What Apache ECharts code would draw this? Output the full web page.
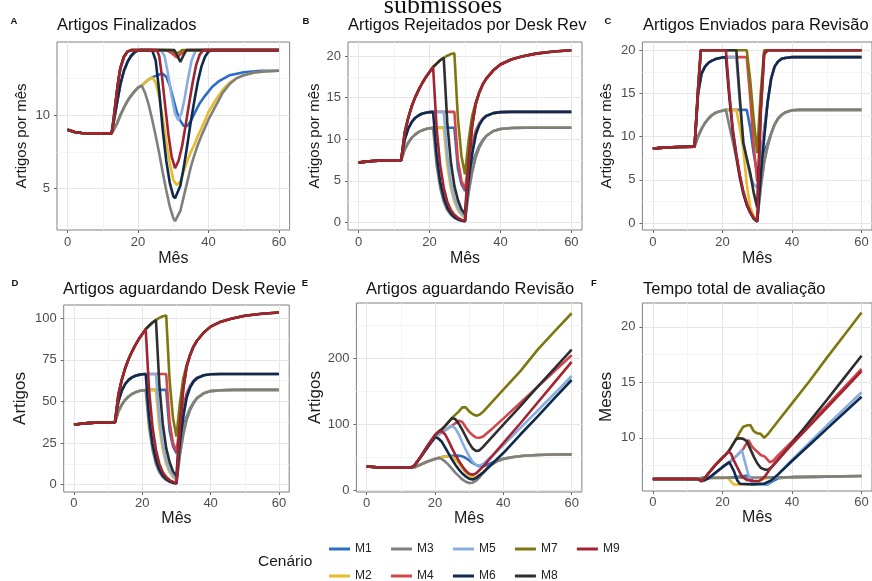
<!DOCTYPE html>
<html>
  <head>
    <meta charset="utf-8" />
    <title>Cenários de submissões</title>
    <script src="https://cdn.jsdelivr.net/npm/echarts@6/dist/echarts.min.js"></script>
    <style>
      html, body { margin: 0; padding: 0; background: #fff; }
      #main { width: 872px; height: 581px; }
    </style>
  </head>
  <body>
    <div id="main"></div>
    <script type="text/javascript">
      var cenarios = ['M1', 'M2', 'M3', 'M4', 'M5', 'M6', 'M7', 'M8', 'M9'];
      var cores = ['#2b6cc4', '#e9ba2c', '#7f7f7f', '#d4454b', '#88aee0', '#0e2a4d', '#80760f', '#2e2e2e', '#a3232f'];
      var ticksMes = [0, 20, 40, 60];

      // cada série = base + subida do grupo (M1-M3, M4-M6, M7-M9) + resto
      // A - artigos finalizados
      var baseA = [[0, 9.0], [2, 8.85], [4, 8.78], [7, 8.75], [12.5, 8.75]];
      var subidaA = [
        [[13, 8.85], [14, 9.4], [15, 10.0], [16, 10.5], [17, 10.95], [18, 11.3], [19, 11.6], [20, 11.85], [21, 12.0]],
        [[13, 9.4], [14, 10.8], [15, 12.1], [16, 13.0], [17, 13.6], [18, 14.0], [19, 14.25], [20, 14.38], [21, 14.4]],
        [[13, 9.6], [13.5, 10.6], [14, 11.6], [14.5, 12.5], [15, 13.2], [16, 13.95], [17, 14.3], [18, 14.4]]
      ];
      var restoA = [
        [[22, 12.2], [23, 12.4], [24, 12.55], [25, 12.65], [26, 12.75], [27, 12.8], [28, 12.6], [29, 12.0], [30, 11.1], [31, 10.2], [32, 9.6], [33, 9.25], [34, 9.25], [35, 9.6], [36, 10.1], [37.5, 10.8], [39, 11.3], [41, 11.9], [43, 12.3], [46, 12.7], [50, 12.9], [55, 13.0], [60, 13.0]],
        [[22, 12.2], [23, 12.4], [24, 12.55], [25, 12.2], [26, 11.2], [27, 9.8], [28, 8.2], [29, 6.7], [30, 5.6], [31, 5.25], [32, 5.5], [33, 6.2], [34, 6.9], [35, 7.5], [36, 8.0], [37, 8.6], [38, 9.1], [40, 10.2], [42, 11.0], [44, 11.7], [46, 12.2], [48, 12.5], [50, 12.7], [53, 12.88], [56, 12.95], [60, 13.0]],
        [[22, 11.5], [23, 10.7], [24, 9.7], [25, 8.6], [26, 7.4], [27, 6.1], [28, 4.9], [29, 3.8], [30, 3.0], [30.5, 2.8], [31, 2.9], [32, 3.5], [33, 4.5], [34, 5.5], [35, 6.5], [36, 7.3], [37, 8.0], [38, 8.6], [40, 9.7], [42, 10.6], [44, 11.5], [46, 12.1], [48, 12.5], [50, 12.7], [53, 12.88], [56, 12.95], [60, 13.0]],
        [[28, 14.4], [29.5, 14.2], [31, 13.9], [32.5, 14.2], [34, 14.4], [60, 14.4]],
        [[26.5, 14.4], [27.5, 14.0], [28.5, 12.8], [29.5, 11.3], [30.5, 10.1], [31.4, 9.65], [32.3, 10.1], [33.2, 11.1], [34.2, 12.5], [35.2, 13.7], [36.2, 14.3], [37, 14.4], [60, 14.4]],
        [[24, 14.4], [25, 13.7], [26, 11.6], [27, 9.0], [28, 6.9], [29, 5.4], [30, 4.5], [30.5, 4.35], [31, 4.45], [32, 5.2], [33, 6.5], [34, 8.0], [35, 9.6], [36, 11.0], [37, 12.3], [38, 13.3], [39, 13.95], [40, 14.3], [41, 14.4], [60, 14.4]],
        [[29.5, 14.4], [30.5, 14.22], [31.5, 14.22], [32.5, 14.4], [60, 14.4]],
        [[30.3, 14.4], [31.2, 14.0], [32, 13.6], [32.8, 14.0], [33.7, 14.4], [60, 14.4]],
        [[25.3, 14.4], [26, 14.0], [26.8, 12.6], [27.7, 10.6], [28.6, 8.7], [29.5, 7.2], [30.5, 6.4], [31.5, 6.9], [32.5, 7.9], [33.5, 9.3], [34.5, 10.8], [35.5, 12.2], [36.5, 13.4], [37.5, 14.1], [38.5, 14.4], [60, 14.4]]
      ];

      // B - rejeitados por desk review
      var baseB = [[0, 7.2], [2, 7.32], [4, 7.4], [7, 7.47], [12, 7.5]];
      var subidaB = [
        [[13, 8.8], [14, 9.6], [15, 10.2], [16, 10.6], [17, 10.9], [18, 11.1], [19, 11.25], [20, 11.33], [21, 11.38]],
        [[13, 10.0], [14, 11.3], [15, 12.1], [16, 12.6], [17, 12.9], [18, 13.1], [19, 13.2], [20, 13.27], [21, 13.3]],
        [[13, 10.8], [14, 12.6], [15, 14.0], [16, 15.1], [17, 16.0], [18, 16.8], [19, 17.5], [20, 18.1], [21, 18.7]]
      ];
      var restoB = [
        [[24, 11.4], [27, 11.4], [28, 6.5], [29, 4.6], [30, 3.8], [31, 5.5], [32, 7.0], [33, 8.2], [34, 9.2], [35, 9.9], [36, 10.4], [38, 11.0], [40, 11.25], [43, 11.36], [47, 11.4], [60, 11.4]],
        [[24, 11.4], [25, 6.9], [26, 4.2], [27, 2.5], [28, 1.5], [29, 0.93], [30, 0.57], [31, 3.8], [32, 6.2], [33, 7.9], [34, 9.0], [35, 9.8], [36, 10.4], [38, 11.0], [40, 11.25], [43, 11.36], [47, 11.4], [60, 11.4]],
        [[22, 6.9], [23, 4.2], [24, 2.5], [25, 1.5], [26, 0.93], [27, 0.57], [28, 0.34], [29, 0.21], [30, 0.13], [31, 3.5], [32, 6.0], [33, 7.8], [34, 9.0], [35, 9.8], [36, 10.4], [38, 11.0], [40, 11.25], [43, 11.36], [47, 11.4], [60, 11.4]],
        [[27, 13.3], [28, 7.5], [29, 5.0], [30, 4.0], [31, 7.0], [32, 9.3], [33, 11.0], [34, 11.9], [35, 12.5], [36, 12.85], [38, 13.15], [40, 13.27], [43, 13.3], [60, 13.3]],
        [[24, 13.3], [25, 8.1], [26, 4.9], [27, 3.0], [28, 1.8], [29, 1.1], [30, 0.66], [31, 5.2], [32, 8.3], [33, 10.5], [34, 11.7], [35, 12.4], [36, 12.8], [38, 13.15], [40, 13.27], [43, 13.3], [60, 13.3]],
        [[22, 8.1], [23, 4.9], [24, 3.0], [25, 1.8], [26, 1.1], [27, 0.66], [28, 0.4], [29, 0.24], [30, 0.15], [31, 5.0], [32, 8.2], [33, 10.5], [34, 11.7], [35, 12.4], [36, 12.8], [38, 13.15], [40, 13.27], [43, 13.3], [60, 13.3]],
        [[22, 19.1], [23, 19.5], [24, 19.8], [25, 20.05], [26, 20.25], [27, 20.35], [28, 12.5], [29, 8.0], [30, 5.8], [31, 9.8], [32, 12.8], [33, 14.4], [34, 15.6], [35, 16.6], [36, 17.3], [38, 18.3], [40, 19.0], [43, 19.6], [46, 19.95], [50, 20.3], [55, 20.55], [60, 20.7]],
        [[22, 19.1], [23, 19.5], [24, 19.8], [25, 12.0], [26, 7.3], [27, 4.4], [28, 2.7], [29, 1.6], [30, 1.0], [31, 7.3], [32, 11.6], [33, 14.2], [34, 15.6], [35, 16.6], [36, 17.3], [38, 18.3], [40, 19.0], [43, 19.6], [46, 19.95], [50, 20.3], [55, 20.55], [60, 20.7]],
        [[22, 11.3], [23, 6.9], [24, 4.2], [25, 2.5], [26, 1.5], [27, 0.93], [28, 0.56], [29, 0.34], [30, 0.21], [31, 7.0], [32, 11.5], [33, 14.2], [34, 15.6], [35, 16.6], [36, 17.3], [38, 18.3], [40, 19.0], [43, 19.6], [46, 19.95], [50, 20.3], [55, 20.55], [60, 20.7]]
      ];

      // C - enviados para revisão
      var baseC = [[0, 8.6], [2, 8.7], [4, 8.75], [7, 8.8], [12, 8.85]];
      var subidaC = [
        [[13, 10.0], [14, 10.9], [15, 11.6], [16, 12.1], [17, 12.5], [18, 12.75], [19, 12.9], [20, 13.0], [21, 13.1]],
        [[13, 15.0], [14, 17.3], [15, 18.1], [16, 18.55], [17, 18.8], [18, 18.97], [19, 19.08], [20, 19.15], [21, 19.2]],
        [[13, 15.5], [13.8, 20], [21, 20]]
      ];
      var restoC = [
        [[27, 13.1], [28, 11], [29, 8], [30, 5.8], [31, 7.2], [32, 8.3], [33, 9.2], [34, 10.4], [35, 11.4], [36, 12.1], [37, 12.5], [38, 12.8], [40, 13.05], [42, 13.1], [60, 13.1]],
        [[24, 13.1], [25, 11], [26, 8.5], [27, 4.5], [28, 1.8], [29, 0.8], [30, 0.4], [31, 4.2], [32, 7.1], [33, 8.9], [34, 10.3], [35, 11.4], [36, 12.1], [37, 12.5], [38, 12.8], [40, 13.05], [42, 13.1], [60, 13.1]],
        [[22, 11.2], [23, 9.4], [24, 7.5], [25, 5.2], [26, 3.4], [27, 2.1], [28, 1.2], [29, 0.6], [30, 0.2], [31, 4.0], [32, 7.0], [33, 8.9], [34, 10.3], [35, 11.4], [36, 12.1], [37, 12.5], [38, 12.8], [40, 13.05], [42, 13.1], [60, 13.1]],
        [[27, 19.2], [28, 14.5], [29, 9.0], [30, 4.8], [31, 7.5], [32, 10.8], [33, 14.0], [34, 16.7], [35, 18.1], [36, 18.7], [37, 19.0], [38, 19.1], [40, 19.2], [60, 19.2]],
        [[24, 19.2], [25, 14], [26, 9.5], [27, 7.3], [28, 5.4], [29, 4.5], [30, 4.1], [31, 7.0], [32, 10.5], [33, 14.0], [34, 16.7], [35, 18.1], [36, 18.7], [37, 19.0], [38, 19.1], [40, 19.2], [60, 19.2]],
        [[22, 14.5], [23, 10.5], [24, 7.8], [25, 5.4], [26, 3.5], [27, 2.1], [28, 1.2], [29, 0.5], [30, 0.15], [31, 5.5], [32, 9.8], [33, 14.0], [34, 16.7], [35, 18.1], [36, 18.7], [37, 19.0], [38, 19.1], [40, 19.2], [60, 19.2]],
        [[27, 20], [28, 16.5], [29, 12], [30, 8.1], [31, 15], [32, 20], [60, 20]],
        [[24, 20], [25, 14.5], [26, 9.3], [27, 7.5], [28, 5.8], [29, 3.5], [30, 1.8], [31, 13], [32, 19.6], [33, 20], [60, 20]],
        [[22, 15], [23, 10.8], [24, 8.0], [25, 5.6], [26, 3.7], [27, 2.3], [28, 1.3], [29, 0.6], [30, 0.2], [31, 12.5], [32, 19.5], [33, 20], [60, 20]]
      ];

      // D - aguardando desk review
      var baseD = [[0, 36], [2, 36.6], [4, 37], [7, 37.35], [12, 37.5]];
      var subidaD = [
        [[13, 44], [14, 48], [15, 51], [16, 53], [17, 54.5], [18, 55.5], [19, 56.25], [20, 56.65], [21, 56.9]],
        [[13, 50], [14, 56.5], [15, 60.5], [16, 63], [17, 64.5], [18, 65.5], [19, 66], [20, 66.35], [21, 66.5]],
        [[13, 54], [14, 63], [15, 70], [16, 75.5], [17, 80], [18, 84], [19, 87.5], [20, 90.5], [21, 93.5]]
      ];
      var restoD = [
        [[24, 57], [27, 57], [28, 32.5], [29, 23], [30, 19], [31, 27.5], [32, 35], [33, 41], [34, 46], [35, 49.5], [36, 52], [38, 55], [40, 56.25], [43, 56.8], [47, 57], [60, 57]],
        [[24, 57], [25, 34.5], [26, 21], [27, 12.5], [28, 7.5], [29, 4.65], [30, 2.85], [31, 19], [32, 31], [33, 39.5], [34, 45], [35, 49], [36, 52], [38, 55], [40, 56.25], [43, 56.8], [47, 57], [60, 57]],
        [[22, 34.5], [23, 21], [24, 12.5], [25, 7.5], [26, 4.65], [27, 2.85], [28, 1.7], [29, 1.05], [30, 0.65], [31, 17.5], [32, 30], [33, 39], [34, 45], [35, 49], [36, 52], [38, 55], [40, 56.25], [43, 56.8], [47, 57], [60, 57]],
        [[27, 66.5], [28, 37.5], [29, 25], [30, 20], [31, 35], [32, 46.5], [33, 55], [34, 59.5], [35, 62.5], [36, 64.25], [38, 65.75], [40, 66.35], [43, 66.5], [60, 66.5]],
        [[24, 66.5], [25, 40.5], [26, 24.5], [27, 15], [28, 9], [29, 5.5], [30, 3.3], [31, 26], [32, 41.5], [33, 52.5], [34, 58.5], [35, 62], [36, 64], [38, 65.75], [40, 66.35], [43, 66.5], [60, 66.5]],
        [[22, 40.5], [23, 24.5], [24, 15], [25, 9], [26, 5.5], [27, 3.3], [28, 2], [29, 1.2], [30, 0.75], [31, 25], [32, 41], [33, 52.5], [34, 58.5], [35, 62], [36, 64], [38, 65.75], [40, 66.35], [43, 66.5], [60, 66.5]],
        [[22, 95.5], [23, 97.5], [24, 99], [25, 100.25], [26, 101.25], [27, 101.75], [28, 62.5], [29, 40], [30, 29], [31, 49], [32, 64], [33, 72], [34, 78], [35, 83], [36, 86.5], [38, 91.5], [40, 95], [43, 98], [46, 99.75], [50, 101.5], [55, 102.75], [60, 103.5]],
        [[22, 95.5], [23, 97.5], [24, 99], [25, 60], [26, 36.5], [27, 22], [28, 13.5], [29, 8], [30, 5], [31, 36.5], [32, 58], [33, 71], [34, 78], [35, 83], [36, 86.5], [38, 91.5], [40, 95], [43, 98], [46, 99.75], [50, 101.5], [55, 102.75], [60, 103.5]],
        [[22, 56.5], [23, 34.5], [24, 21], [25, 12.5], [26, 7.5], [27, 4.65], [28, 2.8], [29, 1.7], [30, 1.05], [31, 35], [32, 57.5], [33, 71], [34, 78], [35, 83], [36, 86.5], [38, 91.5], [40, 95], [43, 98], [46, 99.75], [50, 101.5], [55, 102.75], [60, 103.5]]
      ];

      // E - aguardando revisão
      var baseE = [[0, 36.5], [3, 35.5], [6, 35.1], [13, 35]];
      var subidaE = [
        [[14, 35.5], [16, 40], [18, 44.5], [20, 48], [21, 49.5]],
        [[14, 38], [16, 52], [18, 67], [20, 81]],
        [[14, 38], [16, 53], [18, 69], [20, 84], [21, 89]]
      ];
      var restoE = [
        [[22, 51], [24, 52.5], [26, 53], [27, 53], [28, 52], [29, 49.5], [30, 46], [31, 42], [32, 39], [33, 37], [34, 37], [35, 38.5], [36, 41], [38, 45.5], [40, 48.5], [43, 51], [46, 52.8], [50, 54], [55, 54.8], [60, 55]],
        [[22, 51], [24, 52.5], [25, 51], [26, 47], [27, 41], [28, 34], [29, 27.5], [30, 22.5], [31, 20], [32, 20.5], [33, 23.5], [34, 28], [35, 33], [36, 37.5], [38, 44], [40, 48], [43, 51], [46, 52.8], [50, 54], [55, 54.8], [60, 55]],
        [[22, 48], [23, 44], [24, 39], [25, 33], [26, 27], [27, 22], [28, 17], [29, 13.5], [30, 11.5], [31, 12], [32, 15], [33, 20], [34, 26], [35, 32], [36, 37], [38, 44], [40, 48], [43, 51], [46, 52.8], [50, 54], [55, 54.8], [60, 55]],
        [[22, 88], [24, 95], [26, 102], [27, 106], [27.5, 107.5], [28, 104], [29, 96], [30, 89], [31, 84], [32, 80.5], [33, 80], [34, 81.5], [37, 95], [40, 109], [45, 133], [50, 157], [55, 181], [60, 205]],
        [[22, 88], [24, 95], [25, 98], [26, 94], [27, 85], [28, 73], [29, 62], [30, 52], [31, 44], [32, 39], [33, 38], [34, 40], [37, 54], [40, 69], [45, 95], [50, 121], [55, 147], [60, 173.5]],
        [[21, 79], [22, 74], [23, 65], [24, 56], [25, 47], [26, 39], [27, 32], [28, 26], [29, 21.5], [30, 18], [31, 17], [32, 19], [34, 27], [37, 42], [40, 57], [45, 85], [50, 112], [55, 140], [60, 167.5]],
        [[22, 93], [23, 98], [24, 104], [25, 110], [26, 115], [27, 120], [28, 126], [28.5, 127.5], [29, 126], [30, 120], [31, 116], [32, 113.5], [33, 115], [34, 119], [37, 136], [40, 153], [45, 181], [50, 213], [55, 241], [60, 268.5]],
        [[22, 93], [23, 98], [24, 104], [25, 110], [25.5, 111], [26, 108], [27, 101], [28, 92], [29, 82], [30, 72], [31, 64], [32, 60], [33, 61], [34, 66], [37, 83], [40, 100], [45, 128], [50, 157], [55, 185], [60, 213.5]],
        [[21.5, 91], [22, 90], [23, 85], [24, 75], [25, 64], [26, 54], [27, 45], [28, 37], [29, 30], [30, 25.5], [31, 24], [32, 26], [34, 36], [37, 54], [40, 72], [45, 102], [50, 133], [55, 164], [60, 195]]
      ];

      // F - tempo total de avaliação (meses)
      var baseF = [[0, 6.28], [13, 6.28]];
      var subidaF = [
        [[14, 6.38], [21.5, 6.4]],
        [[14, 6.1], [15, 6.2], [16, 6.35], [18, 6.85], [20, 7.35], [22, 7.8]],
        [[14, 6.1], [15, 6.4], [16, 6.8], [18, 7.55], [20, 8.2], [21, 8.5], [21.8, 8.77]]
      ];
      var restoF = [
        [[24, 6.45], [26, 6.55], [27.5, 6.6], [28.5, 6.15], [29.5, 5.85], [33, 5.8], [34.5, 6.1], [36, 6.35], [40, 6.45], [50, 6.5], [60, 6.55]],
        [[22.5, 6.05], [23.3, 5.78], [29, 5.78], [30, 5.9], [31, 6.2], [33, 6.4], [40, 6.45], [50, 6.5], [60, 6.55]],
        [[30, 6.42], [40, 6.45], [50, 6.5], [60, 6.55]],
        [[24, 8.35], [26, 9.0], [27.5, 9.8], [28.5, 9.2], [29.8, 8.8], [31, 8.45], [32.2, 8.3], [33.6, 7.8], [34.5, 7.9], [36, 8.4], [40, 9.65], [45, 11.3], [50, 12.9], [55, 14.55], [60, 16.2]],
        [[24, 8.35], [25.6, 8.9], [26.5, 7.8], [27.5, 6.6], [28.4, 6.0], [29.5, 5.85], [33, 5.85], [34.5, 6.2], [36, 6.7], [40, 8.0], [45, 9.55], [50, 11.1], [55, 12.6], [60, 14.1]],
        [[22.5, 7.85], [23.3, 7.0], [24.2, 6.2], [25, 5.85], [29, 5.8], [32, 5.85], [34, 6.15], [36, 6.7], [40, 7.9], [45, 9.35], [50, 10.8], [55, 12.25], [60, 13.7]],
        [[23, 9.4], [24, 9.9], [25, 10.5], [26, 11.0], [27, 11.1], [28, 11.15], [29, 10.6], [30, 10.4], [31, 10.35], [32, 10.0], [33, 10.3], [35, 11.1], [40, 13.1], [45, 15.1], [50, 17.2], [55, 19.25], [60, 21.3]],
        [[23, 9.4], [24, 9.9], [25, 9.95], [26, 9.9], [27, 9.7], [28, 9.0], [29, 8.3], [30, 7.7], [31, 7.3], [32, 7.15], [33, 7.1], [34, 7.3], [36, 8.0], [40, 9.5], [45, 11.45], [50, 13.4], [55, 15.4], [60, 17.4]],
        [[22.5, 8.55], [23.2, 8.0], [24.5, 7.2], [25.6, 6.5], [27, 6.2], [29, 6.1], [30.5, 6.1], [31.5, 6.3], [32.2, 6.5], [33.5, 7.1], [35, 7.7], [40, 9.4], [45, 11.05], [50, 12.7], [55, 14.35], [60, 16.0]]
      ];

      var ticksA = [5, 10];
      var ticksB = [0, 5, 10, 15, 20];
      var ticksC = [0, 5, 10, 15, 20];
      var ticksD = [0, 25, 50, 75, 100];
      var ticksE = [0, 100, 200];
      var ticksF = [10, 15, 20];

      var fonte = "'Liberation Sans', Arial, Helvetica, sans-serif";

      var paineis = [
        { letra: 'A', titulo: 'Artigos Finalizados', nomeY: 'Artigos por mês', base: baseA, subida: subidaA, resto: restoA,
          y: [2.2, 14.95, 5], ticks: ticksA, caixa: [57, 42, 232.6, 188], tit: [57, 16], gapY: 28, gapX: 21, tamNome: 15, tamX: 16, margemX: 6, pos: [14, 21] },
        { letra: 'B', titulo: 'Artigos Rejeitados por Desk Rev', nomeY: 'Artigos por mês', base: baseB, subida: subidaB, resto: restoB,
          y: [-0.9, 21.7, 5], ticks: ticksB, caixa: [348, 42, 234, 188], tit: [348, 16], gapY: 23, gapX: 21, tamNome: 15, tamX: 16, margemX: 6, pos: [306, 21] },
        { letra: 'C', titulo: 'Artigos Enviados para Revisão', nomeY: 'Artigos por mês', base: baseC, subida: subidaC, resto: restoC,
          y: [-0.8, 20.95, 5], ticks: ticksC, caixa: [642.4, 42, 233.2, 188], tit: [643, 16], gapY: 28, gapX: 21, tamNome: 15, tamX: 16, margemX: 6, pos: [608, 21] },
        { letra: 'D', titulo: 'Artigos aguardando Desk Revie', nomeY: 'Artigos', base: baseD, subida: subidaD, resto: restoD,
          y: [-4.4, 108, 25], ticks: ticksD, caixa: [63.7, 305, 225.5, 187], tit: [63, 280], gapY: 35, gapX: 17, tamNome: 17, tamX: 16, margemX: 5, pos: [15, 283] },
        { letra: 'E', titulo: 'Artigos aguardando Revisão', nomeY: 'Artigos', base: baseE, subida: subidaE, resto: restoE,
          y: [-2, 284, 100], ticks: ticksE, caixa: [356.4, 303, 225.5, 189], tit: [366, 280], gapY: 29, gapX: 17, tamNome: 17, tamX: 16, margemX: 5, pos: [305, 283] },
        { letra: 'F', titulo: 'Tempo total de avaliação', nomeY: 'Meses', base: baseF, subida: subidaF, resto: restoF,
          y: [5.2, 22.15, 5], ticks: ticksF, caixa: [642.4, 303, 233.2, 188], tit: [643, 280], gapY: 28, gapX: 17, tamNome: 17, tamX: 16, margemX: 5, pos: [594, 283] }
      ];

      var grids = [], xAxes = [], yAxes = [], series = [], titles = [], graphics = [];

      paineis.forEach(function (p, i) {
        grids.push({
          left: p.caixa[0], top: p.caixa[1], width: p.caixa[2], height: p.caixa[3],
          show: true, borderColor: '#808080', borderWidth: 1, backgroundColor: '#fff'
        });
        xAxes.push({
          type: 'value', gridIndex: i, min: -3, max: 63, minInterval: 20, maxInterval: 20,
          name: 'Mês', nameLocation: 'middle', nameGap: p.gapX,
          nameTextStyle: { fontSize: p.tamX, color: '#1a1a1a' },
          axisLine: { show: false, onZero: false },
          axisTick: { show: true, length: 3, lineStyle: { color: '#666' }, customValues: ticksMes },
          axisLabel: { color: '#4d4d4d', fontSize: 13, margin: p.margemX, customValues: ticksMes },
          splitLine: { show: true, lineStyle: { color: '#e6e6e6', width: 1 } },
          minorTick: { show: false, splitNumber: 2 },
          minorSplitLine: { show: true, lineStyle: { color: '#f1f1f1', width: 0.8 } }
        });
        yAxes.push({
          type: 'value', gridIndex: i, min: p.y[0], max: p.y[1], minInterval: p.y[2], maxInterval: p.y[2],
          name: p.nomeY, nameLocation: 'middle', nameGap: p.gapY, nameRotate: 90,
          nameTextStyle: { fontSize: p.tamNome, color: '#1a1a1a' },
          axisLine: { show: false, onZero: false },
          axisTick: { show: true, length: 3, lineStyle: { color: '#666' }, customValues: p.ticks },
          axisLabel: { color: '#4d4d4d', fontSize: 13, margin: 7, customValues: p.ticks },
          splitLine: { show: true, lineStyle: { color: '#e6e6e6', width: 1 } },
          minorTick: { show: false, splitNumber: 2 },
          minorSplitLine: { show: true, lineStyle: { color: '#f1f1f1', width: 0.8 } }
        });
        titles.push({
          text: p.titulo, left: p.tit[0], top: p.tit[1], padding: 0,
          textStyle: { fontSize: 16.5, fontWeight: 'normal', color: '#111', lineHeight: 18 }
        });
        graphics.push({
          type: 'text', x: p.pos[0], y: p.pos[1],
          style: { text: p.letra, font: 'bold 9.5px ' + fonte, fill: '#111', align: 'center', verticalAlign: 'middle' }
        });
        cenarios.forEach(function (nome, j) {
          var grupo = Math.floor(j / 3);
          series.push({
            type: 'line', name: nome, xAxisIndex: i, yAxisIndex: i,
            data: p.base.concat(p.subida[grupo], p.resto[j]),
            symbol: 'none', showSymbol: false, silent: true,
            lineStyle: { width: 2.6, color: cores[j] },
            itemStyle: { color: cores[j] },
            emphasis: { disabled: true }
          });
        });
      });

      graphics.push({
        type: 'text', x: 443, y: 6,
        style: { text: 'submissões', font: "26px 'Liberation Serif', 'DejaVu Serif', serif", fill: '#111', align: 'center', verticalAlign: 'middle' }
      });
      graphics.push({
        type: 'text', x: 258, y: 562,
        style: { text: 'Cenário', font: '15.5px ' + fonte, fill: '#1a1a1a', align: 'left', verticalAlign: 'middle' }
      });

      var legendaBase = {
        left: 329, orient: 'horizontal', icon: 'rect', itemWidth: 21, itemHeight: 3, itemGap: 19.3,
        selectedMode: false, padding: 0,
        textStyle: { fontSize: 12, color: '#222', lineHeight: 14 }
      };

      var chartDom = document.getElementById('main');
      var myChart = echarts.init(chartDom);
      var option = {
        animation: false,
        textStyle: { fontFamily: fonte },
        title: titles,
        grid: grids,
        xAxis: xAxes,
        yAxis: yAxes,
        legend: [
          Object.assign({}, legendaBase, { top: 542, data: ['M1', 'M3', 'M5', 'M7', 'M9'] }),
          Object.assign({}, legendaBase, { top: 569, data: ['M2', 'M4', 'M6', 'M8'] })
        ],
        graphic: graphics,
        series: series
      };
      myChart.setOption(option);
    </script>
  </body>
</html>
